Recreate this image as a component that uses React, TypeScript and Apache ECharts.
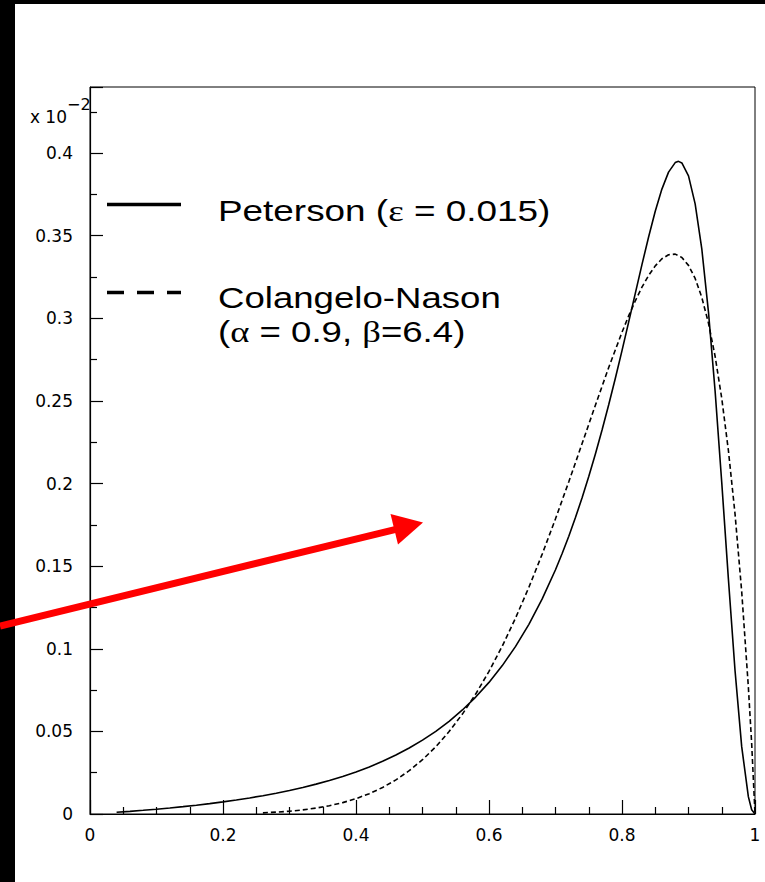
import React, { useEffect, useRef } from "react";
import * as echarts from "echarts";

// Peterson (epsilon = 0.015) — solid histogram curve (values in units of 10^-2)
const petersonZ = [
  0.04, 0.06, 0.08, 0.10, 0.12, 0.14, 0.16, 0.18, 0.20, 0.22, 0.24, 0.26, 0.28, 0.30,
  0.32, 0.34, 0.36, 0.38, 0.40, 0.42, 0.44, 0.46, 0.48, 0.50, 0.52, 0.54, 0.56, 0.58,
  0.60, 0.62, 0.64, 0.66, 0.68, 0.70, 0.71, 0.72, 0.73, 0.74, 0.75, 0.76, 0.77, 0.78,
  0.79, 0.80, 0.81, 0.82, 0.83, 0.84, 0.85, 0.86, 0.87, 0.88, 0.885, 0.89, 0.90, 0.91,
  0.92, 0.93, 0.94, 0.95, 0.96, 0.97, 0.98, 0.99, 0.995, 1.0,
];
const petersonD = [
  0.00103, 0.00161, 0.00223, 0.00292, 0.00366, 0.00446, 0.00534, 0.00629, 0.00734, 0.00848,
  0.00973, 0.01109, 0.0126, 0.01425, 0.01607, 0.01807, 0.02029, 0.02275, 0.02548, 0.02851,
  0.0319, 0.03568, 0.03992, 0.04468, 0.05004, 0.0561, 0.06297, 0.07077, 0.07966, 0.08982,
  0.10145, 0.1148, 0.13016, 0.14783, 0.15763, 0.16814, 0.17939, 0.19142, 0.20425, 0.21792,
  0.23241, 0.24771, 0.26376, 0.28047, 0.29768, 0.31513, 0.33249, 0.34925, 0.36478, 0.37821,
  0.38847, 0.39425, 0.395, 0.39406, 0.38624, 0.36928, 0.34199, 0.30395, 0.256, 0.2006,
  0.1422, 0.08668, 0.04075, 0.0105, 0.0026, 0,
];

// Colangelo-Nason (alpha = 0.9, beta = 6.4) — dashed curve
const cnZ = [
  0.26, 0.28, 0.30, 0.32, 0.34, 0.36, 0.38, 0.40, 0.42, 0.44, 0.46, 0.48, 0.50, 0.52,
  0.54, 0.56, 0.58, 0.60, 0.62, 0.64, 0.66, 0.68, 0.70, 0.72, 0.74, 0.76, 0.78, 0.80,
  0.81, 0.82, 0.83, 0.84, 0.85, 0.86, 0.87, 0.88, 0.89, 0.90, 0.91, 0.92, 0.93, 0.94,
  0.95, 0.96, 0.97, 0.98, 0.99, 0.995, 1.0,
];
const cnD = [
  0.00071, 0.00112, 0.00169, 0.00249, 0.00357, 0.00501, 0.00688, 0.00928, 0.01231, 0.01606,
  0.02065, 0.02621, 0.03285, 0.0407, 0.04988, 0.06048, 0.0726, 0.08631, 0.10165, 0.11866,
  0.13723, 0.15731, 0.17867, 0.20107, 0.22417, 0.24744, 0.2702, 0.29156, 0.30145, 0.31061,
  0.31884, 0.32594, 0.33173, 0.33603, 0.33847, 0.33884, 0.33682, 0.33205, 0.32414, 0.31267,
  0.29715, 0.27704, 0.25156, 0.22001, 0.18148, 0.13458, 0.07694, 0.04258, 0,
];

const legendLines = ["Peterson ({g|ε} = 0.015)", "Colangelo-Nason", "({g|α} = 0.9, {g|β}=6.4)"];
const axisExponent = "x 10";
const axisExponentPower = "−2";

export default function App() {
  const ref = useRef<HTMLDivElement>(null);

  useEffect(() => {
    document.body.style.margin = "0";
    if (!ref.current) return;
    const chart = echarts.init(ref.current, null, { renderer: "svg" });

    const tickFont = { fontFamily: "DejaVu Sans", fontSize: 17, color: "#000" };
    const legendFont = "Liberation Sans";
    const rich = { g: { fontFamily: "Liberation Serif", fontSize: 30, color: "#000" } };

    const option: any = {
      animation: false,
      backgroundColor: "#fff",
      grid: {
        left: 90,
        right: 10,
        top: 87,
        bottom: 68,
        show: true,
        borderColor: "#000",
        borderWidth: 1,
        backgroundColor: "transparent",
      },
      xAxis: {
        type: "value",
        min: 0,
        max: 1,
        interval: 0.2,
        axisLine: { show: true, lineStyle: { color: "#000", width: 1.2 } },
        axisTick: { show: true, inside: true, length: 14, lineStyle: { color: "#000", width: 1.2 } },
        minorTick: { show: true, splitNumber: 4, length: 7, lineStyle: { color: "#000", width: 1.2 } },
        splitLine: { show: false },
        axisLabel: { ...tickFont, margin: 12 },
      },
      yAxis: {
        type: "value",
        min: 0,
        max: 0.44,
        interval: 0.05,
        axisLine: { show: true, lineStyle: { color: "#000", width: 1.2 } },
        axisTick: { show: true, inside: true, length: 13, lineStyle: { color: "#000", width: 1.2 } },
        minorTick: { show: true, splitNumber: 2, length: 7, lineStyle: { color: "#000", width: 1.2 } },
        splitLine: { show: false },
        axisLabel: { ...tickFont, margin: 17, showMaxLabel: false },
      },
      series: [
        {
          type: "line",
          data: petersonZ.map((z, i) => [z, petersonD[i]]),
          showSymbol: false,
          symbol: "none",
          lineStyle: { color: "#000", width: 1.6 },
          silent: true,
        },
        {
          type: "line",
          data: cnZ.map((z, i) => [z, cnD[i]]),
          showSymbol: false,
          symbol: "none",
          lineStyle: { color: "#000", width: 1.6, type: [5, 3] },
          silent: true,
        },
      ],
      graphic: [
        // black bands from the original screenshot edges
        { type: "rect", shape: { x: 0, y: 0, width: 15, height: 882 }, style: { fill: "#000" }, z: 100 },
        { type: "rect", shape: { x: 0, y: 0, width: 765, height: 4 }, style: { fill: "#000" }, z: 100 },
        // axis exponent
        {
          type: "text",
          x: 67,
          y: 117,
          style: { text: axisExponent, align: "right", verticalAlign: "middle", font: "17px 'DejaVu Sans'", fill: "#000" },
        },
        {
          type: "text",
          x: 67,
          y: 104,
          style: { text: axisExponentPower, align: "left", verticalAlign: "middle", font: "16px 'DejaVu Sans'", fill: "#000" },
        },
        // legend samples
        {
          type: "line",
          shape: { x1: 107, y1: 204.5, x2: 181, y2: 204.5 },
          style: { stroke: "#000", lineWidth: 3.5 },
        },
        {
          type: "line",
          shape: { x1: 107, y1: 292.5, x2: 181, y2: 292.5 },
          style: { stroke: "#000", lineWidth: 3.5, lineDash: [17, 13] },
        },
        // legend texts
        {
          type: "text",
          x: 218,
          y: 211,
          scaleX: 1.23,
          style: { text: legendLines[0], align: "left", verticalAlign: "middle", font: `30px '${legendFont}'`, fill: "#000", rich },
        },
        {
          type: "text",
          x: 218,
          y: 298,
          scaleX: 1.22,
          style: { text: legendLines[1], align: "left", verticalAlign: "middle", font: `30px '${legendFont}'`, fill: "#000" },
        },
        {
          type: "text",
          x: 218,
          y: 332,
          scaleX: 1.22,
          style: { text: legendLines[2], align: "left", verticalAlign: "middle", font: `30px '${legendFont}'`, fill: "#000", rich },
        },
        // red arrow annotation (drawn above the black edge band)
        {
          type: "line",
          shape: { x1: 0, y1: 626, x2: 400, y2: 528.3 },
          style: { stroke: "#ff0000", lineWidth: 7 },
          z: 120,
        },
        {
          type: "polygon",
          shape: { points: [[423, 522.5], [390.5, 514], [398, 544.5]] },
          style: { fill: "#ff0000" },
          z: 120,
        },
      ],
    };

    chart.setOption(option);
    return () => chart.dispose();
  }, []);

  return (
    <div
      ref={ref}
      style={{ position: "absolute", left: 0, top: 0, width: 765, height: 882, background: "#fff" }}
    />
  );
}
